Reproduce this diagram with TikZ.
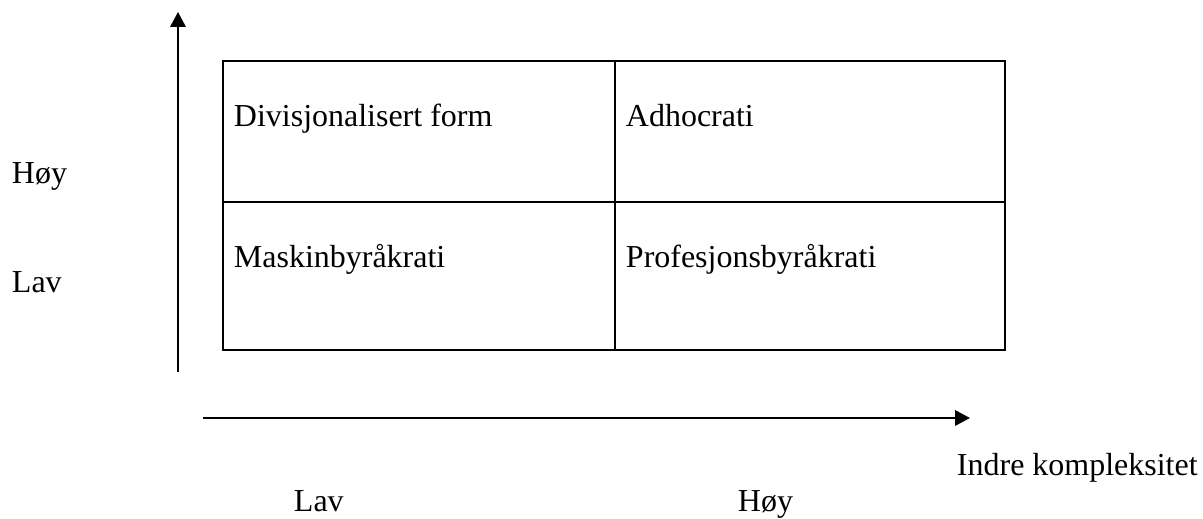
\documentclass[tikz,border=0pt]{standalone}
\usepackage{fontspec}
\setmainfont{Liberation Serif}
\usetikzlibrary{arrows.meta}

\begin{document}
\begin{tikzpicture}[x=0.02cm, y=-0.02cm, line width=1.1pt,
  lbl/.style={anchor=base west, inner sep=0pt, font=\fontsize{18.2}{22}\selectfont},
  axis/.style={-{Triangle[length=0.3cm, width=0.31cm]}}]
\useasboundingbox (0,0) rectangle (1203,519);

% the four cells
\draw (223,61) rectangle (1005,350);
\draw (615,61) -- (615,350);
\draw (223,202) -- (1005,202);

\node[lbl] (divform) at (233,127) {Divisjonalisert form};
\node[lbl] (adhoc)   at (625,127) {Adhocrati};
\node[lbl] (maskin)  at (233,268) {Maskinbyråkrati};
\node[lbl] (profbyr) at (625,268) {Profesjonsbyråkrati};

% axes
\coordinate (ybot) at (178,372);
\coordinate (ytop) at (178,12);
\draw[axis] (ybot) -- (ytop);
\coordinate (xleft)  at (203,418);
\coordinate (xright) at (970,418);
\draw[axis] (xleft) -- (xright);

\node[lbl] (yhigh) at (11,184) {Høy};
\node[lbl] (ylow)  at (11,293) {Lav};
\node[lbl] (xname) at (956,476) {Indre kompleksitet};
\node[lbl] (xlow)  at (293,512) {Lav};
\node[lbl] (xhigh) at (737,512) {Høy};
\end{tikzpicture}
\end{document}
